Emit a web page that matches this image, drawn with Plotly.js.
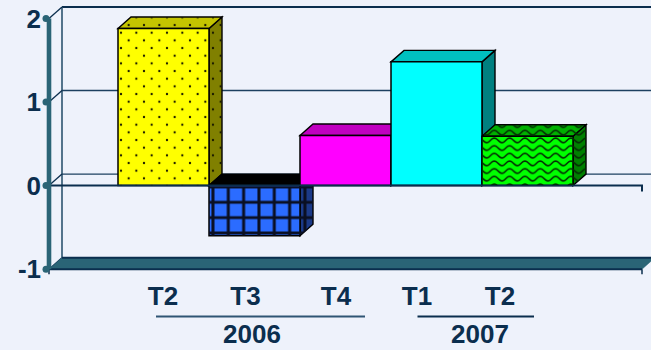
<!DOCTYPE html>
<html>
<head>
<meta charset="utf-8">
<script src="https://cdn.plot.ly/plotly-3.0.1.min.js"></script>
<style>html,body{margin:0;padding:0;background:#eef2fb;}</style>
</head>
<body>
<div id="chart" style="width:651px;height:350px;"></div>
<script>
// Quarterly values, one bar per quarter
const quarters = ['T2', 'T3', 'T4', 'T1', 'T2'];
const values = [1.88, -0.6, 0.6, 1.48, 0.59];
const yTicks = [-1, 0, 1, 2];
const yearLabels = ['2006', '2007'];

// Face colours of each box
const frontColors = ['#ffff00', '#2b6cff', '#ff00ff', '#00ffff', '#00ff00'];
const topColors = ['#c4c400', '#000000', '#c000c0', '#00c0c0', '#00b000'];
const sideColors = ['#808000', '#1b3a88', '#800080', '#008080', '#008000'];
const textures = ['dots', 'grid', null, null, 'wave'];

// Drawing scale (page pixels) of the pseudo-3D view
const PX_X = 91, PX_Y = 83.6, X0 = 118, Y0 = 185.6;
const DEPTH_X = 13 / PX_X, DEPTH_Y = 11.5 / PX_Y;
const W = 651, H = 350, M = {l: 42, r: 0, t: 4, b: 75};
const NAVY = '#0b2e4e', TEAL = '#2a6476';

const dataX = px => (px - X0) / PX_X - 0.5;
const dataY = py => (Y0 - py) / PX_Y;
const pageX = x => X0 + (x + 0.5) * PX_X;
const pageY = y => Y0 - y * PX_Y;
const paperX = px => (px - M.l) / (W - M.l - M.r);
const paperY = py => (H - M.b - py) / (H - M.t - M.b);

const xLeft = dataX(49), xRight = dataX(642);
const xMax = dataX(W);

function poly(points) {
  return 'M' + points.map(p => p[0] + ',' + p[1]).join(' L') + ' Z';
}
function polyShape(points, fill, line, width) {
  return {type: 'path', xref: 'x', yref: 'y', layer: 'below', path: poly(points),
    fillcolor: fill, line: {color: line, width: width}};
}
function lineShape(x0, y0, x1, y1, color, width) {
  return {type: 'line', xref: 'x', yref: 'y', layer: 'below', x0, y0, x1, y1,
    line: {color, width}};
}

const shapes = [];

// Back wall: frame, grid lines and the connectors to the front axis
shapes.push(lineShape(xLeft + DEPTH_X, 2 + DEPTH_Y, xMax, 2 + DEPTH_Y, NAVY, 2));
shapes.push(lineShape(xLeft + DEPTH_X, -1 + DEPTH_Y, xLeft + DEPTH_X, 2 + DEPTH_Y, '#2c5470', 1.6));
yTicks.forEach(t => {
  if (t > -1 && t < 2) shapes.push(lineShape(xLeft + DEPTH_X, t + DEPTH_Y, xMax, t + DEPTH_Y, '#1c4060', 1.4));
  shapes.push(lineShape(xLeft, t, xLeft + DEPTH_X, t + DEPTH_Y, NAVY, 1.3));
});

// Floor
shapes.push(polyShape([[xLeft, -1], [xLeft + DEPTH_X, -1 + DEPTH_Y], [xRight + DEPTH_X, -1 + DEPTH_Y], [xRight, -1]], TEAL, TEAL, 0.5));
shapes.push(lineShape(xLeft + DEPTH_X, -1 + DEPTH_Y, xMax, -1 + DEPTH_Y, NAVY, 2));
shapes.push(lineShape(xLeft, -1, xRight, -1, NAVY, 2));
shapes.push(lineShape(xRight, -1, xRight, -1 - 5 / PX_Y, NAVY, 1.5));
shapes.push(lineShape(xLeft, -1, xLeft, -1 - 5 / PX_Y, NAVY, 1.5));

// Top and side faces of every box, left to right so nearer boxes overlap
values.forEach((v, i) => {
  const l = i - 0.5, r = i + 0.5, hi = Math.max(v, 0), lo = Math.min(v, 0);
  shapes.push(polyShape([[r, lo], [r + DEPTH_X, lo + DEPTH_Y], [r + DEPTH_X, hi + DEPTH_Y], [r, hi]], sideColors[i], '#000', 1.4));
  shapes.push(polyShape([[l, hi], [l + DEPTH_X, hi + DEPTH_Y], [r + DEPTH_X, hi + DEPTH_Y], [r, hi]], topColors[i], '#000', 1.4));
});

// Rules under the quarter labels
[[156, 365, '#2f5574'], [417.5, 534, NAVY]].forEach(([a, b, c]) => {
  shapes.push({type: 'line', xref: 'paper', yref: 'paper', x0: paperX(a), x1: paperX(b),
    y0: paperY(316.5), y1: paperY(316.5), line: {color: c, width: 1.8}});
});

// Hatch fills, aligned to the page like a screen brush
const TILE = 15.33;
const patternDefs = {
  dots: '<pattern id="p" patternUnits="userSpaceOnUse" width="' + TILE + '" height="' + TILE + '" x="121" y="32.7">' +
    '<circle cx="0" cy="0" r="1.15" fill="#1a1a00"/><circle cx="' + TILE + '" cy="0" r="1.15" fill="#1a1a00"/>' +
    '<circle cx="0" cy="' + TILE + '" r="1.15" fill="#1a1a00"/><circle cx="' + TILE + '" cy="' + TILE + '" r="1.15" fill="#1a1a00"/>' +
    '<circle cx="' + TILE / 2 + '" cy="' + TILE / 2 + '" r="1.15" fill="#1a1a00"/></pattern>',
  grid: '<pattern id="p" patternUnits="userSpaceOnUse" width="' + TILE + '" height="' + TILE + '" x="228.3" y="202.3">' +
    '<path d="M0,0V' + TILE + 'M0,0H' + TILE + 'M' + TILE + ',0V' + TILE + 'M0,' + TILE + 'H' + TILE + '" stroke="#0a0f22" stroke-width="3" fill="none"/></pattern>',
  wave: '<pattern id="p" patternUnits="userSpaceOnUse" width="' + TILE + '" height="' + TILE / 2 + '" x="494.3" y="144.7">' +
    '<path d="M0,1 C2,1 2.5,2 3.83,3.3 C5.2,4.6 5.7,5.6 7.67,5.6 C9.6,5.6 10.1,4.6 11.5,3.3 C12.8,2 13.3,1 15.33,1" stroke="#032b03" stroke-width="1.6" fill="none"/></pattern>'
};

const images = [];
values.forEach((v, i) => {
  if (!textures[i]) return;
  const hi = Math.max(v, 0), lo = Math.min(v, 0);
  const l = pageX(i - 0.5), r = pageX(i + 0.5), dx = DEPTH_X * PX_X, dy = DEPTH_Y * PX_Y;
  const t = pageY(hi), b = pageY(lo);
  const L = l, T = t - dy, wPx = r + dx - l, hPx = b - T;
  // A box below zero shows its texture only under the axis; the top face stays plain
  const outline = v >= 0
    ? [[l, b], [l, t], [l + dx, t - dy], [r + dx, t - dy], [r + dx, b - dy], [r, b]]
    : [[l, t + 1], [r + dx, t + 1], [r + dx, b - dy], [r, b], [l, b]];
  const svg = '<svg xmlns="http://www.w3.org/2000/svg" width="' + wPx + '" height="' + hPx + '" viewBox="' +
    L + ' ' + T + ' ' + wPx + ' ' + hPx + '" preserveAspectRatio="none"><defs>' + patternDefs[textures[i]] +
    '</defs><polygon fill="url(#p)" points="' + outline.map(p => p.join(',')).join(' ') + '"/></svg>';
  images.push({source: 'data:image/svg+xml;charset=utf-8,' + encodeURIComponent(svg),
    xref: 'x', yref: 'y', x: i - 0.5, y: hi + DEPTH_Y, sizex: 1 + DEPTH_X, sizey: hi + DEPTH_Y - lo,
    xanchor: 'left', yanchor: 'top', sizing: 'stretch', layer: 'above'});
});

const bars = {
  type: 'bar', x: values.map((_, i) => i), y: values, width: 1,
  marker: {color: frontColors, line: {color: '#000', width: 1.5}},
  hoverinfo: 'skip', showlegend: false
};
const zeroAxis = {
  type: 'scatter', mode: 'lines', x: [xLeft, xRight, xRight], y: [0, 0, -6 / PX_Y],
  line: {color: NAVY, width: 2}, hoverinfo: 'skip', showlegend: false
};
const valueAxis = {
  type: 'scatter', mode: 'lines', x: yTicks.map(() => xLeft), y: yTicks,
  line: {color: TEAL, width: 4.6}, hoverinfo: 'skip', showlegend: false
};
const tickDots = {
  type: 'scatter', mode: 'markers', x: yTicks.map(() => dataX(46)), y: yTicks,
  marker: {color: TEAL, size: 7}, hoverinfo: 'skip', showlegend: false
};

const labelFont = {family: '"Liberation Sans", Arial, sans-serif', size: 26, color: NAVY, weight: 700};

const layout = {
  width: W, height: H, margin: M,
  paper_bgcolor: '#eef2fb', plot_bgcolor: '#eef2fb', showlegend: false,
  bargap: 0,
  xaxis: {
    range: [dataX(M.l), dataX(W)], showgrid: false, zeroline: false, showline: false, ticks: '',
    tickmode: 'array', tickvals: [163, 245.5, 336, 417, 500].map(dataX), ticktext: quarters,
    tickangle: 0, tickfont: labelFont, ticklabelstandoff: 3
  },
  yaxis: {
    range: [dataY(H - M.b), dataY(M.t)], showgrid: false, zeroline: false, showline: false, ticks: '',
    tickmode: 'array', tickvals: yTicks, ticktext: yTicks.map(String),
    tickfont: labelFont, ticklabelstandoff: 0
  },
  shapes, images,
  annotations: [[251.5, 0], [480, 1]].map(([px, k]) => ({
    xref: 'paper', yref: 'paper', x: paperX(px), y: paperY(350), yanchor: 'bottom', xanchor: 'center',
    text: yearLabels[k], showarrow: false, font: labelFont, borderpad: 0
  }))
};

Plotly.newPlot('chart', [bars, zeroAxis, valueAxis, tickDots], layout, {staticPlot: true, displayModeBar: false});
</script>
</body>
</html>
